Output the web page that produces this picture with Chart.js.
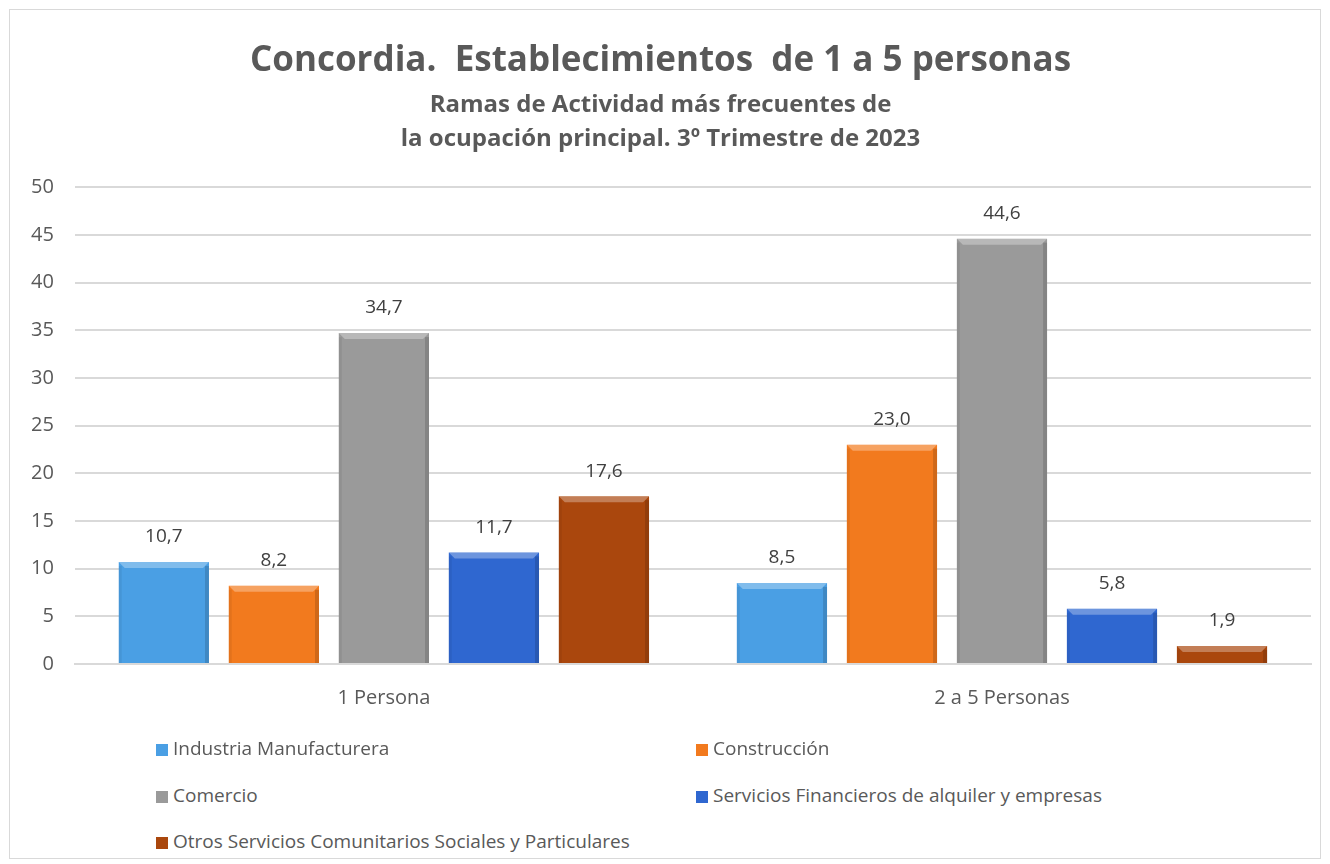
<!DOCTYPE html>
<html>
<head>
<meta charset="utf-8">
<script src="https://cdn.jsdelivr.net/npm/chart.js@4.4.0/dist/chart.umd.min.js"></script>
<style>
    body { margin: 0; background: #fff; font-family: "Open Sans", sans-serif; }
    #frame { position: absolute; left: 9px; top: 9px; width: 1310px; height: 848px; border: 1px solid #d9d9d9; }
    #chart { position: absolute; left: 0; top: 0; }
    #legend { position: absolute; left: 0; top: 722px; width: 1310px; }
    .item { position: absolute; font-size: 19px; line-height: 24px; color: #595959; white-space: nowrap; }
    .item span.box { display: inline-block; width: 12px; height: 12px; margin-right: 5px; vertical-align: -1px; }
</style>
</head>
<body>
<div id="frame">
    <canvas id="chart" width="1310" height="742"></canvas>
    <div id="legend"></div>
</div>
<script>
// Categories and series
const categories = ['1 Persona', '2 a 5 Personas'];
const seriesNames = [
    'Industria Manufacturera',
    'Construcción',
    'Comercio',
    'Servicios Financieros de alquiler y empresas',
    'Otros Servicios Comunitarios Sociales y Particulares'
];
const industria = [10.7, 8.5];
const construccion = [8.2, 23.0];
const comercio = [34.7, 44.6];
const servicios = [11.7, 5.8];
const otros = [17.6, 1.9];
const seriesColors = ['#4a9fe4', '#f27a1e', '#9a9a9a', '#2f67d0', '#aa470d'];

const seriesValues = [industria, construccion, comercio, servicios, otros];
const textColor = '#595959';

// Draw value labels above bars plus a small bevel look
const barDecor = {
    id: 'barDecor',
    afterDatasetsDraw(chart) {
        const ctx = chart.ctx;
        chart.data.datasets.forEach((ds, i) => {
            const meta = chart.getDatasetMeta(i);
            meta.data.forEach((bar, j) => {
                const left = bar.x - bar.width / 2;
                const right = bar.x + bar.width / 2;
                const top = bar.y;
                const bottom = bar.base;
                ctx.save();
                // top highlight
                ctx.fillStyle = 'rgba(255,255,255,0.30)';
                ctx.beginPath();
                ctx.moveTo(left, top);
                ctx.lineTo(right, top);
                ctx.lineTo(right - 6, top + 6);
                ctx.lineTo(left + 6, top + 6);
                ctx.closePath();
                ctx.fill();
                // side shading
                ctx.fillStyle = 'rgba(0,0,0,0.14)';
                ctx.fillRect(right - 4, top + 4, 4, bottom - top - 4);
                ctx.fillStyle = 'rgba(0,0,0,0.06)';
                ctx.fillRect(left, top + 4, 3, bottom - top - 4);
                // value label
                ctx.fillStyle = '#404040';
                ctx.font = '19px "Open Sans"';
                ctx.textAlign = 'center';
                ctx.textBaseline = 'middle';
                ctx.fillText(ds.data[j].toFixed(1).replace('.', ','), bar.x, top - 25);
                ctx.restore();
            });
        });
    }
};

const chart = new Chart(document.getElementById('chart'), {
    type: 'bar',
    data: {
        labels: categories,
        datasets: seriesNames.map((name, i) => ({
            label: name,
            data: seriesValues[i],
            backgroundColor: seriesColors[i],
            borderWidth: 0,
            categoryPercentage: 0.89,
            barPercentage: 0.82
        }))
    },
    options: {
        responsive: false,
        animation: false,
        layout: {
            padding: { left: 0, right: 9, top: 0, bottom: 20 }
        },
        plugins: {
            legend: { display: false },
            tooltip: { enabled: false },
            title: {
                display: true,
                text: 'Concordia.  Establecimientos  de 1 a 5 personas',
                color: textColor,
                font: { family: 'Open Sans', size: 35, weight: 'bold' },
                padding: { top: 30, bottom: 6 }
            },
            subtitle: {
                display: true,
                text: ['Ramas de Actividad más frecuentes de', 'la ocupación principal. 3º Trimestre de 2023'],
                color: textColor,
                font: { family: 'Open Sans', size: 24, weight: 'bold', lineHeight: 1.42 },
                padding: { top: 0, bottom: 31 }
            }
        },
        scales: {
            y: {
                min: 0,
                max: 50,
                ticks: {
                    stepSize: 5,
                    color: textColor,
                    font: { family: 'Open Sans', size: 20 },
                    padding: 21
                },
                grid: { color: '#d9d9d9', lineWidth: 2, drawTicks: false },
                border: { display: false }
            },
            x: {
                ticks: {
                    color: textColor,
                    font: { family: 'Open Sans', size: 20 },
                    padding: 22
                },
                grid: { display: false, drawTicks: false },
                border: { color: '#d9d9d9', width: 2 }
            }
        }
    },
    plugins: [barDecor]
});

// HTML legend in two columns, as in the original
const legendPos = [[146, 4], [686, 4], [146, 51], [686, 51], [146, 97]];
const legendEl = document.getElementById('legend');
chart.data.datasets.forEach((ds, i) => {
    const item = document.createElement('div');
    item.className = 'item';
    item.style.left = legendPos[i][0] + 'px';
    item.style.top = legendPos[i][1] + 'px';
    item.innerHTML = '<span class="box" style="background:' + ds.backgroundColor + '"></span>' + ds.label;
    legendEl.appendChild(item);
});
</script>
</body>
</html>
